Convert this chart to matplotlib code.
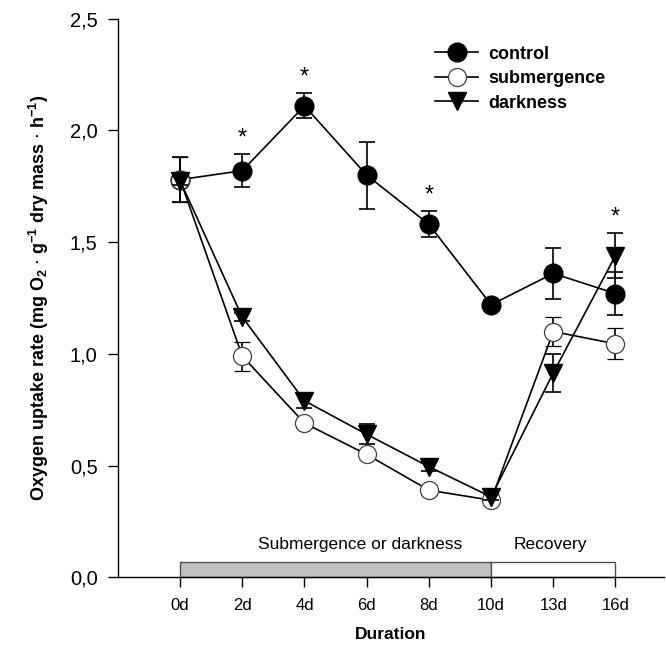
import numpy as np
import matplotlib.pyplot as plt
from matplotlib.lines import Line2D
from matplotlib.patches import Rectangle

plt.rcParams['font.family'] = ['Liberation Sans', 'DejaVu Sans']

# data
days = ['0d', '2d', '4d', '6d', '8d', '10d', '13d', '16d']
control = [1.78, 1.82, 2.11, 1.80, 1.58, 1.22, 1.36, 1.27]
control_err = [0.10, 0.075, 0.056, 0.15, 0.058, 0.02, 0.115, 0.095]
submergence = [1.78, 0.99, 0.69, 0.55, 0.39, 0.345, 1.10, 1.045]
submergence_err = [0.10, 0.065, 0.02, 0.02, 0.02, 0.015, 0.065, 0.07]
darkness = [1.775, 1.165, 0.79, 0.64, 0.495, 0.36, 0.915, 1.44]
darkness_err = [0.02, 0.02, 0.03, 0.045, 0.02, 0.015, 0.085, 0.10]
sig_idx = [1, 2, 4, 7]
yticks = [0.0, 0.5, 1.0, 1.5, 2.0, 2.5]
ytick_labels = ['0,0', '0,5', '1,0', '1,5', '2,0', '2,5']

x = np.arange(len(days))

fig = plt.figure(figsize=(6.66, 6.51), dpi=100)
ax = fig.add_axes([0.177, 0.1132, 0.82, 0.858])

# treatment / recovery bar on the axis
ax.add_patch(Rectangle((0, 0), 5, 0.07, facecolor='#c0c0c0', edgecolor='#505050', lw=1, zorder=2, clip_on=False))
ax.add_patch(Rectangle((5, 0), 2, 0.07, facecolor='white', edgecolor='#505050', lw=1, zorder=2, clip_on=False))
ax.text(2.9, 0.145, 'Submergence or darkness', ha='center', va='center', fontsize=12.5)
ax.text(5.95, 0.145, 'Recovery', ha='center', va='center', fontsize=12.5)

ekw = dict(color='black', lw=1.2, capsize=6, capthick=1.2, elinewidth=1.2)
ax.errorbar(x, control, yerr=control_err, fmt='-o', ms=13.5, mfc='black', mec='black', zorder=3, **ekw)
ax.errorbar(x, submergence, yerr=submergence_err, fmt='-o', ms=13, mfc='white', mec='#404040', mew=0.9, zorder=4, **ekw)
ax.errorbar(x, darkness, yerr=darkness_err, fmt='-v', ms=13, mfc='black', mec='black', zorder=5, **ekw)

for i in sig_idx:
    top = max(control[i] + control_err[i], darkness[i] + darkness_err[i], submergence[i] + submergence_err[i])
    ax.text(x[i], top + 0.02, '*', ha='center', va='bottom', fontsize=17)

handles = [
    Line2D([], [], color='black', lw=1.2, marker='o', ms=13.5, mfc='black', mec='black'),
    Line2D([], [], color='black', lw=1.2, marker='o', ms=13, mfc='white', mec='#404040', mew=0.9),
    Line2D([], [], color='black', lw=1.2, marker='v', ms=13, mfc='black', mec='black'),
]
ax.legend(handles, ['control', 'submergence', 'darkness'], loc='upper left',
          bbox_to_anchor=(0.551, 0.981), frameon=False, handlelength=2.4,
          handletextpad=0.55, labelspacing=0.42, prop={'weight': 'bold', 'size': 13})

ax.set_xlim(-1.0, 7.78)
ax.set_ylim(0, 2.5)
ax.set_xticks(x)
ax.set_xticklabels(days, fontsize=12)
ax.set_yticks(yticks)
ax.set_yticklabels(ytick_labels, fontsize=14.5)
ax.tick_params(axis='y', direction='out', length=7.5, width=1, pad=7)
ax.tick_params(axis='x', direction='out', length=7, width=1, pad=8)
for s in ['top', 'right']:
    ax.spines[s].set_visible(False)
ax.spines['left'].set_linewidth(1)
ax.spines['bottom'].set_linewidth(1)

ax.set_xlabel('Duration', fontsize=12.5, fontweight='bold', labelpad=10)
ax.set_ylabel(r'Oxygen uptake rate (mg O$_\mathregular{2}$ $\cdot$ g$^\mathregular{-1}$ dry mass $\cdot$ h$^\mathregular{-1}$)',
              fontsize=13, fontweight='bold', labelpad=14)

plt.savefig('out.png', dpi=100)
plt.close()
